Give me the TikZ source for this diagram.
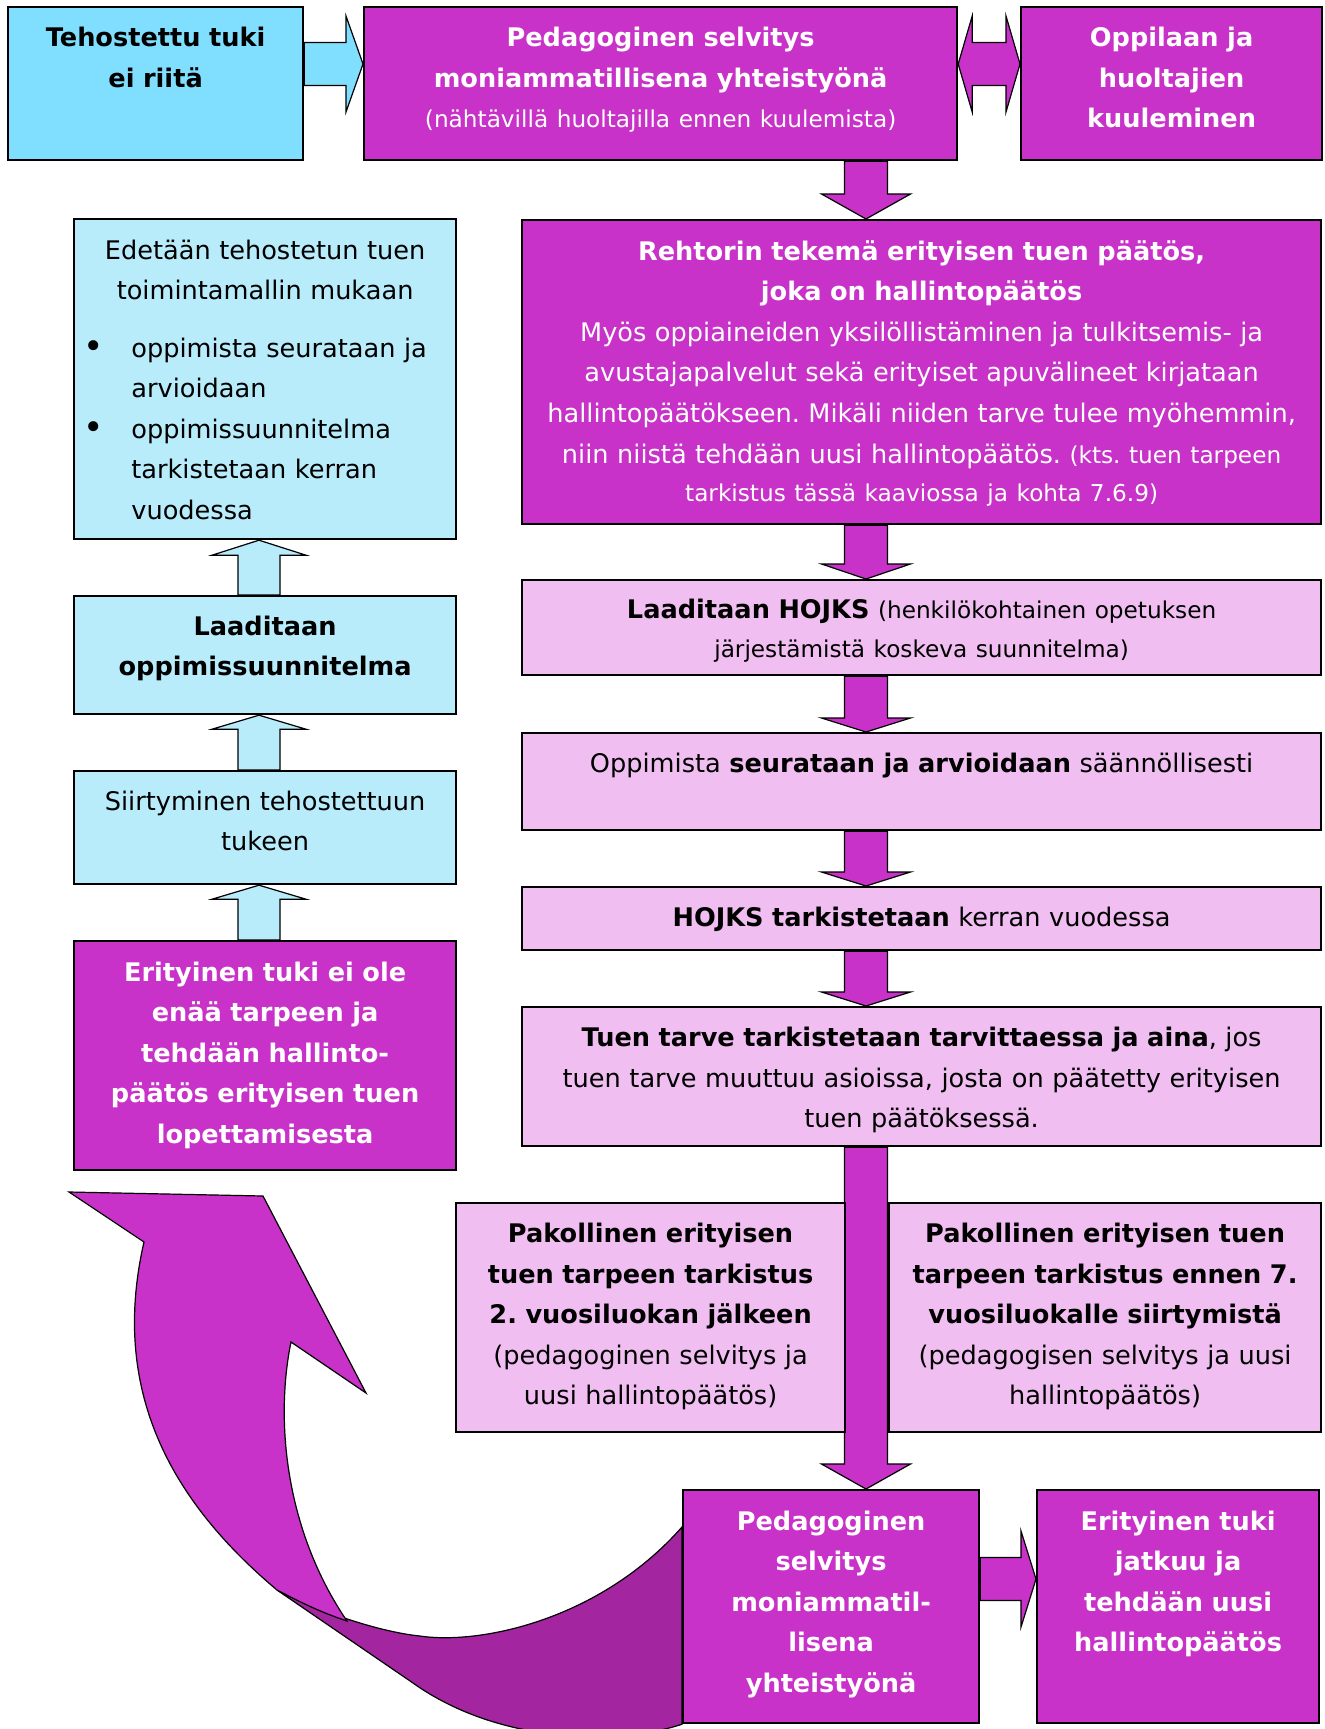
\documentclass[tikz,border=0pt]{standalone}
\usepackage{fontspec}
\setmainfont{DejaVu Sans}
\usetikzlibrary{calc}
\pgfdeclarelayer{bg}
\pgfsetlayers{bg,main}
\definecolor{cyanA}{HTML}{80DFFF}
\definecolor{cyanL}{HTML}{B8ECFA}
\definecolor{mag}{HTML}{C832C8}
\definecolor{magD}{HTML}{A326A0}
\definecolor{pinkL}{HTML}{F0BEF0}
\frenchspacing
\newcommand\sm{\fontsize{11.6}{19.2}\selectfont}
\newcommand\bul{\makebox[24pt][l]{\raisebox{-0.5pt}{\scalebox{1.35}{\textbullet}}}}
\newcommand\bx[6]{\node[box,fill=#2,minimum width={(#5-#3)*0.5pt},minimum height={(#6-#4)*0.5pt}] (#1) at (#3,#4) {};}
\newcommand\downarr[3]{%
 \draw[arr,fill=mag] let \p1=(#1.south -| col), \p2=(#2.north -| col) in
  (\x1-10.75pt,\y1) -- (\x1-10.75pt,\y2+#3*0.5pt) -- (\x1-22.25pt,\y2+#3*0.5pt) -- (\x2,\y2)
  -- (\x1+22.25pt,\y2+#3*0.5pt) -- (\x1+10.75pt,\y2+#3*0.5pt) -- (\x1+10.75pt,\y1) -- cycle;}
\newcommand\uparr[3]{%
 \draw[arr,fill=cyanL] let \p1=(#1.north -| lcol), \p2=(#2.south -| lcol) in
  (\x1-10.5pt,\y1) -- (\x1-10.5pt,\y2-#3*0.5pt) -- (\x1-23.5pt,\y2-#3*0.5pt) -- (\x2,\y2)
  -- (\x1+23.5pt,\y2-#3*0.5pt) -- (\x1+10.5pt,\y2-#3*0.5pt) -- (\x1+10.5pt,\y1) -- cycle;}
\newcommand\rightarr[5]{%
 \draw[arr,fill=#5] let \p1=(#1.east |- #3), \p2=(#2.west |- #3) in
  (\x1,\y1+10.75pt) -- (\x2-#4*0.5pt,\y1+10.75pt) -- (\x2-#4*0.5pt,\y1+24pt) -- (\x2,\y1)
  -- (\x2-#4*0.5pt,\y1-24pt) -- (\x2-#4*0.5pt,\y1-10.75pt) -- (\x1,\y1-10.75pt) -- cycle;}
\begin{document}
\begin{tikzpicture}[x=0.5pt,y=-0.5pt,
 box/.style={draw=black,line width=1.1pt,inner sep=0pt,anchor=north west},
 txt/.style={anchor=base,align=center,inner sep=0pt,font=\fontsize{12.8}{20.3}\selectfont},
 wtxt/.style={txt,text=white},
 arr/.style={draw=black,line width=0.6pt,line join=miter}]
\useasboundingbox (0,0) rectangle (1324,1729);
\coordinate (col) at (866,0);
\coordinate (lcol) at (259,0);
\coordinate (row1) at (0,64);
\coordinate (row2) at (0,1579);

% boxes
\bx{A}{cyanA}{7}{6}{302}{159}
\bx{B}{mag}{363}{6}{956}{159}
\bx{C}{mag}{1020}{6}{1321}{159}
\bx{D}{mag}{521}{219}{1320}{523}
\bx{E}{pinkL}{521}{579}{1320}{674}
\bx{F}{pinkL}{521}{732}{1320}{829}
\bx{G}{pinkL}{521}{886}{1320}{949}
\bx{H}{pinkL}{521}{1006}{1320}{1145}
\bx{I}{pinkL}{455}{1202}{844}{1431}
\bx{J}{pinkL}{888}{1202}{1320}{1431}
\bx{K}{mag}{682}{1489}{978}{1722}
\bx{L}{mag}{1036}{1489}{1318}{1722}
\bx{M}{cyanL}{73}{218}{455}{538}
\bx{N}{cyanL}{73}{595}{455}{713}
\bx{O}{cyanL}{73}{770}{455}{883}
\bx{P}{mag}{73}{940}{455}{1169}

% texts
\node[txt,text width=140pt] (At) at ($(A.north)+(0,40.5)$) {{\bfseries Tehostettu tuki\\ ei riitä}};
\node[wtxt,text width=290pt] (Bt) at ($(B.north)+(0,40.5)$) {{\bfseries Pedagoginen selvitys\\ moniammatillisena yhteistyönä}\\ {\sm(nähtävillä huoltajilla ennen kuulemista)}};
\node[wtxt,text width=145pt] (Ct) at ($(C.north)+(0,40.5)$) {{\bfseries Oppilaan ja\\ huoltajien\\ kuuleminen}};
\node[wtxt,text width=395pt] (Dt) at ($(D.north)+(0,41)$) {{\bfseries Rehtorin tekemä erityisen tuen päätös,\\ joka on hallintopäätös}\\ Myös oppiaineiden yksilöllistäminen ja tulkitsemis- ja\\ avustajapalvelut sekä erityiset apuvälineet kirjataan\\ hallintopäätökseen. Mikäli niiden tarve tulee myöhemmin,\\ niin niistä tehdään uusi hallintopäätös. {\sm(kts. tuen tarpeen}\\[-1pt] {\sm tarkistus tässä kaaviossa ja kohta 7.6.9)}};
\node[txt,text width=395pt] (Et) at ($(E.north)+(0,39.5)$) {{\bfseries Laaditaan HOJKS} {\sm(henkilökohtainen opetuksen}\\[-1pt] {\sm järjestämistä koskeva suunnitelma)}};
\node[txt,text width=395pt] (Ft) at ($(F.north)+(0,40)$) {Oppimista {\bfseries seurataan ja arvioidaan} säännöllisesti};
\node[txt,text width=395pt] (Gt) at ($(G.north)+(0,40)$) {{\bfseries HOJKS tarkistetaan} kerran vuodessa};
\node[txt,text width=395pt] (Ht) at ($(H.north)+(0,40.5)$) {{\bfseries Tuen tarve tarkistetaan tarvittaessa ja aina}, jos\\ tuen tarve muuttuu asioissa, josta on päätetty erityisen\\ tuen päätöksessä.};
\node[txt,text width=190pt] (It) at ($(I.north)+(0,40.5)$) {{\bfseries Pakollinen erityisen\\ tuen tarpeen tarkistus\\ 2. vuosiluokan jälkeen}\\ (pedagoginen selvitys ja\\ uusi hallintopäätös)};
\node[txt,text width=212pt] (Jt) at ($(J.north)+(0,40.5)$) {{\bfseries Pakollinen erityisen tuen\\ tarpeen tarkistus ennen 7.\\ vuosiluokalle siirtymistä}\\ (pedagogisen selvitys ja uusi\\ hallintopäätös)};
\node[wtxt,text width=144pt] (Kt) at ($(K.north)+(0,41)$) {{\bfseries Pedagoginen\\ selvitys\\ moniammatil-\\ lisena\\ yhteistyönä}};
\node[wtxt,text width=138pt] (Lt) at ($(L.north)+(0,41)$) {{\bfseries Erityinen tuki\\ jatkuu ja\\ tehdään uusi\\ hallintopäätös}};
\node[txt,text width=186pt] (Mt) at ($(M.north)+(0,41)$) {Edetään tehostetun tuen\\ toimintamallin mukaan};
\node[txt,anchor=base west,align=left,text width=180pt] (Ml) at (83,357) {\bul oppimista seurataan ja\\ \hspace*{24pt}arvioidaan\\ \bul oppimissuunnitelma\\ \hspace*{24pt}tarkistetaan kerran\\ \hspace*{24pt}vuodessa};
\node[txt,text width=186pt] (Nt) at ($(N.north)+(0,40)$) {{\bfseries Laaditaan\\ oppimissuunnitelma}};
\node[txt,text width=186pt] (Ot) at ($(O.north)+(0,40)$) {Siirtyminen tehostettuun\\ tukeen};
\node[wtxt,text width=186pt] (Pt) at ($(P.north)+(0,41)$) {{\bfseries Erityinen tuki ei ole\\ enää tarpeen ja\\ tehdään hallinto-\\ päätös erityisen tuen\\ lopettamisesta}};

\begin{pgfonlayer}{bg}
 % block arrows
 \rightarr{A}{B}{row1}{17}{cyanA}
 \draw[arr,fill=mag] let \p1=(B.east |- row1), \p2=(C.west |- row1) in
  (\x1,\y1) -- (\x1+7pt,\y1+24pt) -- (\x1+7pt,\y1+10.75pt) -- (\x2-7pt,\y1+10.75pt) -- (\x2-7pt,\y1+24pt)
  -- (\x2,\y1) -- (\x2-7pt,\y1-24pt) -- (\x2-7pt,\y1-10.75pt) -- (\x1+7pt,\y1-10.75pt) -- (\x1+7pt,\y1-24pt) -- cycle;
 \downarr{B}{D}{25}
 \downarr{D}{E}{15}
 \downarr{E}{F}{14}
 \downarr{F}{G}{14}
 \downarr{G}{H}{14}
 \downarr{H}{K}{25}
 \uparr{N}{M}{15}
 \uparr{O}{N}{14}
 \uparr{P}{O}{14}
 \rightarr{K}{L}{row2}{15}{mag}
 % curved arrow from K back up
 \begin{scope}
  \clip (0,0) rectangle (1324,1729);
  \filldraw[fill=magD,draw=black,line width=0.6pt] (K.west |- 0,1527) .. controls (600,1620) and (480,1645) .. (420,1636)
    .. controls (380,1632) and (320,1612) .. (277,1590) -- (413,1683)
    .. controls (500,1745) and (620,1745) .. (K.south west) -- cycle;
  \filldraw[fill=mag,draw=black,line width=0.6pt] (144,1242) -- (69,1192) -- (263,1196) -- (366,1393) -- (291,1342)
    .. controls (275,1420) and (285,1530) .. (347,1621)
    .. controls (320,1612) and (300,1602) .. (277,1590)
    .. controls (170,1500) and (110,1390) .. (144,1242) -- cycle;
 \end{scope}
\end{pgfonlayer}
\end{tikzpicture}
\end{document}
